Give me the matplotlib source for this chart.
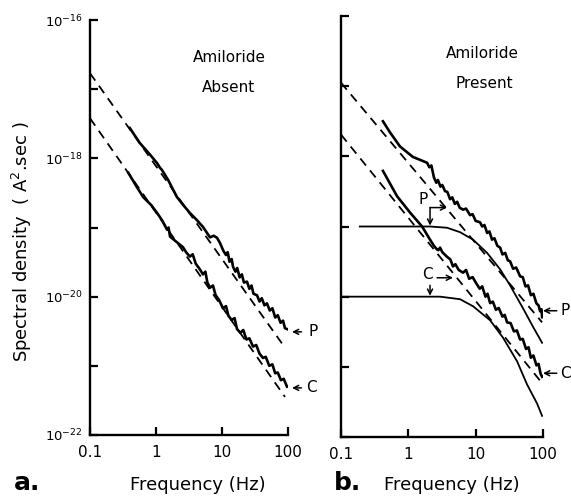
import numpy as np
import matplotlib
matplotlib.use('Agg')
import matplotlib.pyplot as plt
from matplotlib.ticker import FixedLocator, NullLocator, FixedFormatter

plt.rcParams['font.family'] = ['DejaVu Sans']
plt.rcParams['mathtext.default'] = 'regular'

# ---- panel a: amiloride absent ----
a_p_freq = [0.40, 0.57, 0.80, 1.04, 1.15, 1.23, 1.52, 2.08, 2.6, 3.27, 4.1, 5.15, 6.58, 7.5, 8.4,
            9.3, 10.5, 11.5, 12.2, 13.0, 14.0, 14.7, 16.0, 17.0, 18.5, 20.0, 21.5, 23.9, 26, 28,
            30, 33.9, 37, 40, 44, 48, 53, 58, 64, 70, 77, 84, 90, 97]
a_p_psd = [2.75e-18, 1.66e-18, 1.15e-18, 8.5e-19, 7.3e-19, 6.8e-19, 4.9e-19, 2.75e-19, 2.1e-19,
           1.62e-19, 1.3e-19, 1.02e-19, 7.2e-20, 7.6e-20, 7.1e-20, 6.0e-20, 4.6e-20, 4.0e-20,
           4.4e-20, 3.2e-20, 3.5e-20, 2.7e-20, 2.3e-20, 2.6e-20, 1.9e-20, 2.1e-20, 1.6e-20,
           1.65e-20, 1.3e-20, 1.45e-20, 1.1e-20, 1.05e-20, 8.5e-21, 9.5e-21, 7.5e-21, 8.0e-21,
           6.3e-21, 6.8e-21, 5.0e-21, 5.4e-21, 4.2e-21, 4.5e-21, 3.5e-21, 3.4e-21]

a_c_freq = [0.38, 0.50, 0.64, 0.85, 1.04, 1.25, 1.47, 1.55, 1.63, 2.0, 2.56, 2.9, 3.27, 3.6, 4.0,
            4.6, 5.15, 5.6, 6.0, 6.58, 7.3, 8.0, 9.0, 10.35, 11.5, 12.5, 14, 15.5, 16.9, 19, 21,
            23.5, 26, 29.5, 33, 37, 41.8, 46, 52, 58, 64, 70, 78, 86, 96.6]
a_c_psd = [6.2e-19, 4.0e-19, 2.75e-19, 2.1e-19, 1.62e-19, 1.25e-19, 9.3e-20, 1.0e-19, 7.4e-20,
           6.3e-20, 5.2e-20, 4.3e-20, 3.8e-20, 4.1e-20, 3.0e-20, 2.5e-20, 2.1e-20, 2.3e-20,
           1.6e-20, 1.35e-20, 1.45e-20, 1.05e-20, 9.0e-21, 6.8e-21, 7.3e-21, 5.3e-21, 4.6e-21,
           4.9e-21, 3.4e-21, 3.0e-21, 3.3e-21, 2.4e-21, 2.5e-21, 1.9e-21, 2.0e-21, 1.5e-21,
           1.3e-21, 1.35e-21, 1.0e-21, 1.05e-21, 7.8e-22, 8.0e-22, 6.2e-22, 6.5e-22, 5.0e-22]

# 1/f fits (end points)
a_p_fit_freq = [0.1, 90]
a_p_fit_psd = [1.7e-17, 1.83e-21]
a_c_fit_freq = [0.1, 90]
a_c_fit_psd = [3.8e-18, 3.55e-22]

# ---- panel b: amiloride present ----
b_p_freq = [0.42, 0.535, 0.753, 1.17, 1.90, 2.05, 2.2, 2.4, 2.6, 2.75, 3.0, 3.2, 3.5, 3.8, 4.17,
            4.5, 4.9, 5.3, 5.8, 6.5, 7.2, 8.26, 9.0, 10, 11.6, 12.5, 13.5, 14.8, 16, 17.5, 19, 21,
            23.1, 25, 27.5, 30, 32.4, 36, 40, 45.7, 50, 55, 60, 66, 72, 80, 86, 90.6, 95, 97]
b_p_psd = [3.16e-18, 2.19e-18, 1.38e-18, 9.8e-19, 8.1e-19, 7.0e-19, 7.4e-19, 5.0e-19, 4.2e-19,
           4.6e-19, 3.7e-19, 3.9e-19, 3.2e-19, 3.1e-19, 2.45e-19, 2.6e-19, 2.1e-19, 2.25e-19,
           1.85e-19, 1.74e-19, 1.8e-19, 1.45e-19, 1.5e-19, 1.2e-19, 1.15e-19, 1.0e-19, 1.05e-19,
           8.1e-20, 8.5e-20, 6.5e-20, 6.8e-20, 5.3e-20, 5.0e-20, 4.0e-20, 4.2e-20, 3.3e-20,
           3.2e-20, 2.5e-20, 2.6e-20, 1.95e-20, 1.9e-20, 1.4e-20, 1.45e-20, 1.05e-20, 1.1e-20,
           8.0e-21, 7.5e-21, 6.2e-21, 6.6e-21, 5.1e-21]

b_c_freq = [0.42, 0.68, 1.06, 1.60, 2.10, 2.4, 2.67, 2.8, 2.96, 3.2, 3.76, 4.2, 4.61, 5.0, 5.6,
            6.5, 7.2, 8.0, 9.0, 10.5, 11.5, 12.5, 14, 15, 16.4, 18, 20, 22, 25, 27, 29.3, 33,
            37, 41, 45.7, 50, 56, 61, 66, 72, 80, 86, 92, 97]
b_c_psd = [6.2e-19, 2.7e-19, 1.58e-19, 1.0e-19, 6.5e-20, 5.3e-20, 4.7e-20, 4.6e-20, 5.0e-20,
           4.3e-20, 3.7e-20, 3.4e-20, 2.7e-20, 2.9e-20, 2.4e-20, 2.2e-20, 2.4e-20, 1.8e-20,
           1.9e-20, 1.48e-20, 1.3e-20, 1.4e-20, 1.0e-20, 1.1e-20, 8.1e-21, 8.5e-21, 6.5e-21,
           6.9e-21, 5.2e-21, 5.5e-21, 4.3e-21, 4.2e-21, 3.2e-21, 3.3e-21, 2.45e-21, 2.5e-21,
           1.8e-21, 1.9e-21, 1.35e-21, 1.45e-21, 1.05e-21, 1.1e-21, 8.0e-22, 7.2e-22]

b_p_fit_freq = [0.1, 97]
b_p_fit_psd = [1.12e-17, 4.3e-21]
b_c_fit_freq = [0.1, 95]
b_c_fit_psd = [2.04e-18, 6.0e-22]

# Lorentzian components
b_p_lor_freq = [0.19, 2.10, 3.76, 5.86, 9.14, 14.8, 23.1, 32.4, 50.6, 71.3, 97]
b_p_lor_psd = [1.0e-19, 1.0e-19, 9.6e-20, 8.3e-20, 6.5e-20, 4.2e-20, 2.45e-20, 1.45e-20,
               6.8e-21, 3.7e-21, 2.2e-21]
b_c_lor_freq = [0.105, 2.96, 5.86, 9.14, 16.4, 25.5, 41.2, 58, 81.7, 97]
b_c_lor_psd = [1.0e-20, 1.0e-20, 9.2e-21, 7.3e-21, 4.6e-21, 2.6e-21, 1.2e-21, 5.6e-22,
               3.0e-22, 2.0e-22]

x_ticks = [0.1, 1, 10, 100]
x_labels = ['0.1', '1', '10', '100']
y_ticks = [1e-22, 1e-21, 1e-20, 1e-19, 1e-18, 1e-17, 1e-16]
y_labels = [r'$10^{-22}$', '', r'$10^{-20}$', '', r'$10^{-18}$', '', r'$10^{-16}$']

W, H = 571, 496
fig = plt.figure(figsize=(W / 100, H / 100), dpi=100)


def px_axes(x0, x1, y0, y1):
    return fig.add_axes([x0 / W, 1 - y1 / H, (x1 - x0) / W, (y1 - y0) / H])


ax_a = px_axes(90, 288, 20, 435)
ax_b = px_axes(341, 543, 16, 437)

for ax in (ax_a, ax_b):
    ax.set_xscale('log')
    ax.set_yscale('log')
    ax.set_xlim(0.1, 100)
    ax.set_ylim(1e-22, 1e-16)
    for s in ('top', 'right'):
        ax.spines[s].set_visible(False)
    for s in ('left', 'bottom'):
        ax.spines[s].set_linewidth(1.7)
    ax.xaxis.set_major_locator(FixedLocator(x_ticks))
    ax.xaxis.set_major_formatter(FixedFormatter(x_labels))
    ax.yaxis.set_major_locator(FixedLocator(y_ticks))
    ax.xaxis.set_minor_locator(NullLocator())
    ax.yaxis.set_minor_locator(NullLocator())
    ax.tick_params(which='major', direction='in', length=6, width=1.6, labelsize=11, pad=7)
    ax.patch.set_alpha(0)

ax_a.yaxis.set_major_formatter(FixedFormatter(y_labels))
ax_a.tick_params(axis='y', labelsize=9.5, pad=5)
ax_b.yaxis.set_major_formatter(FixedFormatter([''] * len(y_ticks)))

solid = dict(color='black', lw=1.9, solid_joinstyle='round')
dash = dict(color='black', lw=1.3, dashes=(5, 3.5))
thin = dict(color='black', lw=1.3)

# panel a
ax_a.plot(a_p_fit_freq, a_p_fit_psd, **dash)
ax_a.plot(a_c_fit_freq, a_c_fit_psd, **dash)
ax_a.plot(a_p_freq, a_p_psd, **solid)
ax_a.plot(a_c_freq, a_c_psd, **solid)

# panel b
ax_b.plot(b_p_fit_freq, b_p_fit_psd, **dash)
ax_b.plot(b_c_fit_freq, b_c_fit_psd, **dash)
ax_b.plot(b_p_lor_freq, b_p_lor_psd, **thin)
ax_b.plot(b_c_lor_freq, b_c_lor_psd, **thin)
ax_b.plot(b_p_freq, b_p_psd, **solid)
ax_b.plot(b_c_freq, b_c_psd, **solid)

arrow = dict(arrowstyle='->', color='black', lw=1.1, shrinkA=0, shrinkB=0,
             mutation_scale=9)

# end-of-trace labels
for ax, tip, tail, tx, lab, y in [
        (ax_a, 115, 160, 240, 'P', 3.1e-21), (ax_a, 115, 160, 225, 'C', 4.8e-22),
        (ax_b, 100, 160, 215, 'P', 6.3e-21), (ax_b, 100, 160, 215, 'C', 8.1e-22)]:
    ax.annotate('', xy=(tip, y), xytext=(tail, y), arrowprops=arrow, annotation_clip=False)
    ax.text(tx, y, lab, fontsize=11, ha='center', va='center', clip_on=False)

# corner-frequency markers in panel b
ax_b.text(1.65, 2.45e-19, 'P', fontsize=11, ha='center', va='center')
ax_b.annotate('', xy=(2.1, 1.03e-19), xytext=(2.1, 1.86e-19), arrowprops=arrow)
ax_b.annotate('', xy=(3.76, 1.86e-19), xytext=(2.1, 1.86e-19), arrowprops=arrow)
ax_b.text(1.90, 2.05e-20, 'C', fontsize=11, ha='center', va='center')
ax_b.annotate('', xy=(4.6, 1.86e-20), xytext=(2.67, 1.86e-20), arrowprops=arrow)
ax_b.annotate('', xy=(2.1, 1.03e-20), xytext=(2.1, 1.45e-20), arrowprops=arrow)

# condition labels
fig.text(229 / W, 1 - 58 / H, 'Amiloride', ha='center', va='center', fontsize=11)
fig.text(229 / W, 1 - 87 / H, 'Absent', ha='center', va='center', fontsize=11)
fig.text(482 / W, 1 - 53 / H, 'Amiloride', ha='center', va='center', fontsize=11)
fig.text(484 / W, 1 - 83 / H, 'Present', ha='center', va='center', fontsize=11)

fig.text(22 / W, 1 - 242 / H, 'Spectral density  ( A$^{2}$.sec )', rotation=90,
         ha='center', va='center', fontsize=13)
fig.text(198 / W, 1 - 485 / H, 'Frequency (Hz)', ha='center', va='center', fontsize=13)
fig.text(452 / W, 1 - 485 / H, 'Frequency (Hz)', ha='center', va='center', fontsize=13)
fig.text(27 / W, 1 - 483 / H, 'a.', ha='center', va='center', fontsize=18, fontweight='bold')
fig.text(347 / W, 1 - 483 / H, 'b.', ha='center', va='center', fontsize=18, fontweight='bold')

fig.savefig('out.png', dpi=100)
